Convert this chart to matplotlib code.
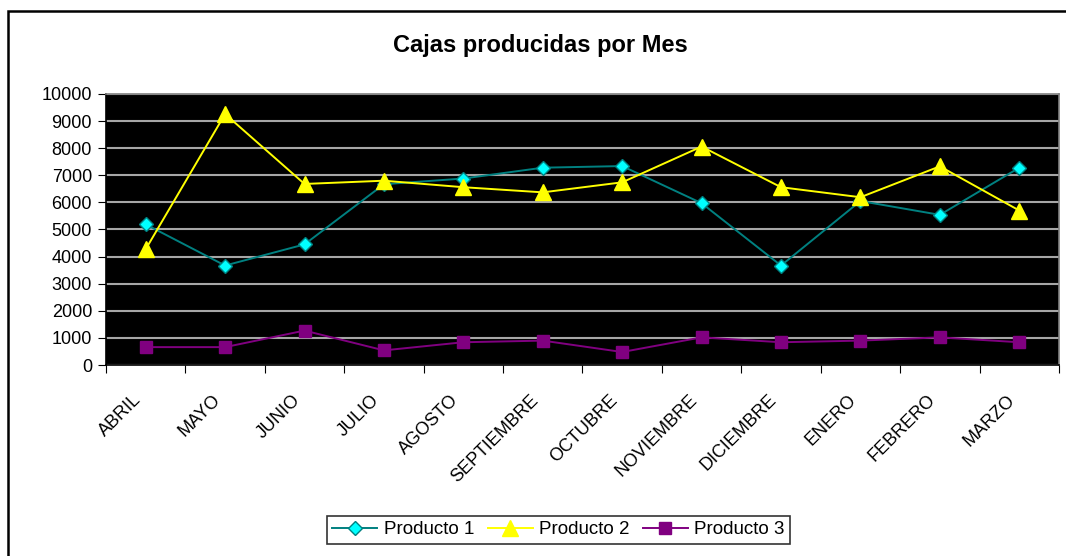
import numpy as np
import matplotlib
matplotlib.use('Agg')
import matplotlib.pyplot as plt
import matplotlib.transforms as mtransforms
from matplotlib.patches import Rectangle

plt.rcParams['font.family'] = ['Liberation Sans', 'DejaVu Sans']

# ─── datos ─────────────────────────────────────────────
meses = ['ABRIL', 'MAYO', 'JUNIO', 'JULIO', 'AGOSTO', 'SEPTIEMBRE',
         'OCTUBRE', 'NOVIEMBRE', 'DICIEMBRE', 'ENERO', 'FEBRERO', 'MARZO']
producto1 = [5190, 3670, 4450, 6670, 6880, 7280, 7340, 5970, 3670, 6050, 5540, 7280]
producto2 = [4270, 9260, 6680, 6800, 6560, 6370, 6740, 8060, 6560, 6190, 7330, 5700]
producto3 = [660, 660, 1270, 540, 840, 900, 480, 1020, 840, 900, 1020, 840]
yticks = list(range(0, 10001, 1000))

fig = plt.figure(figsize=(10.66, 5.56), dpi=100)
ax = fig.add_axes([0.0994, 0.3435, 0.894, 0.4875])
ax.set_facecolor('black')

x = np.arange(len(meses))
ax.plot(x, producto1, color='#008080', lw=1.4, marker='D', ms=7,
        mfc='#00ffff', mec='#008080', mew=1, label='Producto 1', zorder=3)
ax.plot(x, producto2, color='#ffff00', lw=1.4, marker='^', ms=11,
        mfc='#ffff00', mec='#ffff00', label='Producto 2', zorder=3)
ax.plot(x, producto3, color='#800080', lw=1.4, marker='s', ms=8,
        mfc='#800080', mec='#800080', label='Producto 3', zorder=3)

ax.set_xlim(-0.5, len(meses) - 0.5)
ax.set_ylim(0, 10000)
ax.set_yticks(yticks)
ax.set_yticklabels([str(v) for v in yticks], fontsize=13)
ax.yaxis.grid(True, color='#a6a6a6', lw=1.5)
ax.set_axisbelow(True)

# ticks entre categorías
ax.set_xticks(np.arange(-0.5, len(meses), 1.0))
ax.set_xticklabels([])
ax.set_xticks(x, minor=True)
ax.set_xticklabels(meses, minor=True, rotation=45, ha='right', va='top',
                   rotation_mode='anchor', fontsize=13)
ax.tick_params(axis='x', which='minor', length=0, pad=14)
ax.tick_params(axis='both', which='major', direction='out', length=6,
               color='black', pad=4)

# desplazar etiquetas como en Excel
offset = mtransforms.ScaledTranslation(-0.13, -0.07, fig.dpi_scale_trans)
for lbl in ax.get_xticklabels(minor=True):
    lbl.set_transform(lbl.get_transform() + offset)

for side in ['left', 'bottom']:
    ax.spines[side].set_color('black')
    ax.spines[side].set_linewidth(1.2)
for side in ['top', 'right']:
    ax.spines[side].set_color('#808080')
    ax.spines[side].set_linewidth(1.2)

fig.text(0.507, 0.918, 'Cajas producidas por Mes', ha='center', va='center',
         fontsize=17, fontweight='bold')

leg = fig.legend(loc='center', bbox_to_anchor=(0.524, 0.047), ncol=3,
                 fontsize=13.5, frameon=True, fancybox=False, edgecolor='black',
                 handlelength=2.4, columnspacing=0.7, handletextpad=0.35,
                 borderpad=0.3)
leg.get_frame().set_linewidth(1.2)

# borde exterior del gráfico
fig.patches.append(Rectangle((8 / 1066, -0.01), 1.1, (556 - 11) / 556 + 0.01,
                             transform=fig.transFigure, fill=False,
                             edgecolor='black', lw=1.8))

fig.savefig('out.png', dpi=100)
